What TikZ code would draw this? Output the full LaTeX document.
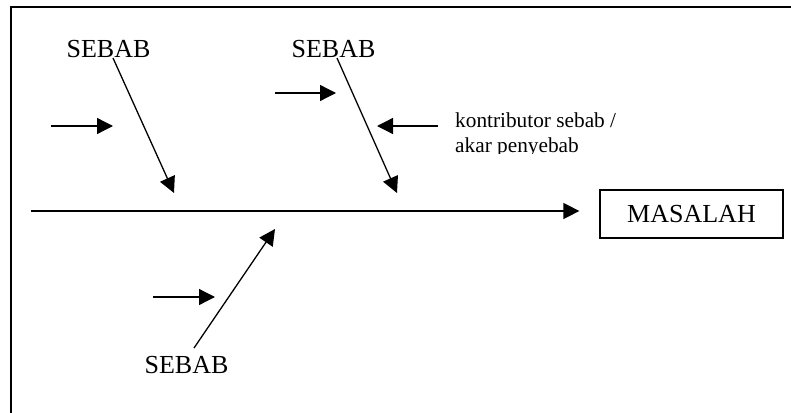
\documentclass[tikz,border=0pt]{standalone}
\usepackage{fontspec}
\setmainfont{Liberation Serif}
\usetikzlibrary{arrows.meta}
\tikzset{
  conn/.style={line width=1.3pt, -{Triangle[length=16pt,width=16pt]}},
  spine/.style={line width=1.6pt, -{Triangle[length=16pt,width=16pt]}},
  cause/.style={font=\fontsize{26}{30}\selectfont, inner sep=0pt, anchor=base},
  note/.style={font=\fontsize{21.3}{25}\selectfont, inner sep=0pt, anchor=base west},
  probbox/.style={draw, line width=1.3pt, minimum width=183pt, minimum height=48pt, inner sep=0pt, font=\fontsize{26}{30}\selectfont},
  frame/.style={line width=1.8pt}
}
\begin{document}
\begin{tikzpicture}[x=1pt,y=-1pt]
\useasboundingbox (0,0) rectangle (791,412);
% frame (only top and left edges visible)
\draw[frame] (11,430) -- (11,7) -- (800,7);
% nodes
\node[cause] (s1) at (108.5,57) {SEBAB};
\node[cause] (s2) at (333.5,57) {SEBAB};
\node[cause] (s3) at (186.5,373) {SEBAB};
\node[probbox] (m) at (691.5,214) {MASALAH};
\begin{scope}
  \clip (440,100) rectangle (720,153);
  \node[note] (k1) at (455,127) {kontributor sebab /};
  \node[note] (k2) at (455,152) {akar penyebab};
\end{scope}
% coordinates
\coordinate (sp0) at (31,211);
\coordinate (b1s) at (113,58);
\coordinate (b1e) at (174,193);
\coordinate (b2s) at (337,58);
\coordinate (b2e) at (397,193);
\coordinate (b3s) at (194,348);
\coordinate (b3e) at (275,229);
\coordinate (a1s) at (51,126);
\coordinate (a1e) at (113,126);
\coordinate (a2s) at (275,93);
\coordinate (a2e) at (336,93);
\coordinate (a3s) at (438,126);
\coordinate (a3e) at (377,126);
\coordinate (a4s) at (153,297);
\coordinate (a4e) at (215,297);
% spine
\draw[spine] (sp0) -- ([xshift=-20pt]m.west |- sp0);
% branches
\draw[conn] (b1s) -- (b1e);
\draw[conn] (b2s) -- (b2e);
\draw[conn] (b3s) -- (b3e);
% contributor arrows
\draw[conn] (a1s) -- (a1e);
\draw[conn] (a2s) -- (a2e);
\draw[conn] (a3s) -- (a3e);
\draw[conn] (a4s) -- (a4e);
\end{tikzpicture}
\end{document}
